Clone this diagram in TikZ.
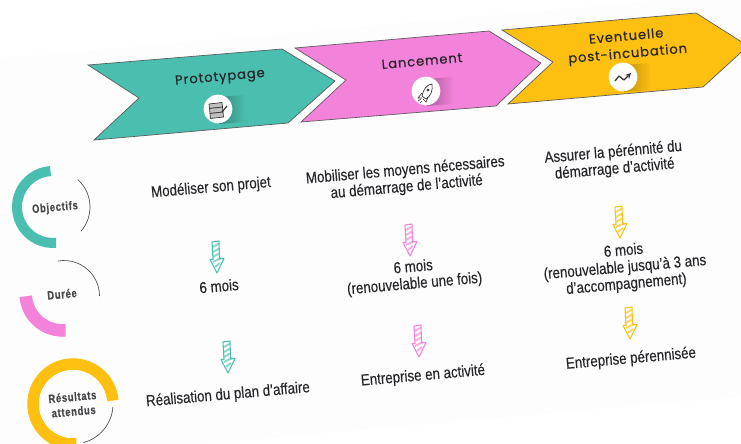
\documentclass[tikz,border=0pt]{standalone}
\usepackage{fontspec}
\setmainfont{Liberation Sans}
\newfontfamily\bodyfont[FakeStretch=0.84,FakeBold=0.15]{Liberation Sans}
\newfontfamily\headfont[LetterSpace=7,FakeBold=0.5]{Poppins}
\newfontfamily\sidefont[FakeStretch=0.78,LetterSpace=6,FakeBold=0.4]{Liberation Sans}
\definecolor{tealc}{HTML}{4ABFAF}
\definecolor{pinkc}{HTML}{F282DA}
\definecolor{yellowc}{HTML}{FDBF10}
\definecolor{inkc}{HTML}{26262A}
\begin{document}
\begin{tikzpicture}%
	[x={(0.75pt, 0pt)},
	y={(0pt, -0.75pt)},
	chevron/.style={draw=black!65, line width=0.5pt, line join=miter},
	headlabel/.style={rotate=5, align=center, text=inkc, font=\headfont\fontsize{9.8}{13}\selectfont, inner sep=0pt},
	bodylabel/.style={rotate=5, align=center, text=inkc, font=\bodyfont\fontsize{11.9}{12.6}\selectfont, inner sep=0pt},
	sidelabel/.style={rotate=5, align=center, text=inkc!85, font=\sidefont\bfseries\fontsize{9}{11}\selectfont, inner sep=0pt},
	badge/.style={circle, fill=white, minimum size=21.5pt, inner sep=0pt},
	thinarc/.style={draw=black!70, line width=0.5pt},
	icon/.style={draw=black!80, line width=0.5pt, line join=round},
	pics/drop/.style={code={
		\draw[line width=0.8pt, line join=round, fill=white] (-4,0) -- (3,-1) -- (3.5,17) -- (8,16.5) -- (1,31) -- (-6,17.5) -- (-3,17.5) -- cycle;
		\draw[line width=1.4pt, opacity=0.65] (-3,5) -- (3,1.5) (-3,10) -- (3,6.5) (-3,15) -- (3,11.5) (-3,20) -- (5,16) (-1,25) -- (4,21);
	}}]
%
\useasboundingbox (0,0) rectangle (741,443);
\clip (0,0) rectangle (741,443);
%%
%% Drawing the tilted sheet
%%
\fill[black!0.8] (0,58) -- (741,-7) -- (741,397) -- (0,462) -- cycle;
%%
%% Drawing the chevrons
%%
\fill[chevron, fill=tealc] (88,65) -- (282,49) -- (335,81) -- (288,123) -- (94,140) -- (139,98) -- cycle;
\fill[chevron, fill=pinkc] (295,48) -- (489,31) -- (541,63) -- (496,106) -- (301,122) -- (346,80) -- cycle;
\fill[chevron, fill=yellowc] (502,30) -- (696,13) -- (748,46) -- (703,87) -- (508,104) -- (553,62) -- cycle;
%%
%% Drawing the shadows behind the badges
%%
\path[left color=tealc!70!black, right color=tealc] (218,97) -- (244,95) -- (246,122) -- (219,124) -- cycle;
\path[left color=pinkc!70!black, right color=pinkc] (426,79) -- (452,77) -- (454,104) -- (427,106) -- cycle;
\path[left color=yellowc!75!black, right color=yellowc] (623,65) -- (649,63) -- (651,90) -- (624,92) -- cycle;
%%
%% Drawing the badges and their icons
%%
\node[badge] (protobadge) at (218,109) {};
\node[badge] (lancebadge) at (426,91) {};
\node[badge] (postbadge) at (623,77) {};
% stack of sheets
\draw[icon, fill=black!25] (209,104) -- (222,102.5) -- (222.5,107) -- (209.5,108.5) -- cycle;
\draw[icon, fill=black!25] (209.5,108.5) -- (222.5,107) -- (223,112) -- (210,113.5) -- cycle;
\draw[icon, fill=black!25] (210,113.5) -- (223,112) -- (223.5,117) -- (210.5,118.5) -- cycle;
\draw[icon, line width=0.9pt] (222,112) -- (227,106);
% rocket
\draw[icon, fill=white] (432,84) .. controls (427,84) and (423,90) .. (422,96) -- (426,99) .. controls (431,96) and (433,90) .. (432,84) -- cycle;
\draw[icon] (422,93) -- (418,98) -- (422,98) (428,97) -- (426,102) -- (423,99);
\draw[icon] (418,101) -- (421,99) (420,103) -- (422,101);
\draw[icon] (428,90) circle (1.2);
% rising curve
\draw[icon, line width=0.9pt, ->, >=stealth] (615,81) -- (619,76) -- (624,80) -- (631,73);
%%
%% Drawing the head labels
%%
\node[headlabel] (proto) at (220,78) {Prototypage};
\node[headlabel] (lance) at (422,61) {Lancement};
\node[headlabel] (post) at (627,46) {Eventuelle\\post-incubation};
%%
%% Drawing the rings on the left
%%
\draw[tealc, line width=7.5pt] (53,207) ++(-94:36) arc (-94:-275:36);
\draw[thinarc] (53,207) ++(-48:37) arc (-48:41:37);
\draw[pinkc, line width=9.4pt] (63,293) ++(-185:37.5) arc (-185:-274:37.5);
\draw[thinarc] (64,296) ++(-100:35.5) arc (-100:0:35.5);
\draw[yellowc, line width=8.6pt] (73,404) ++(-5:40) arc (-5:-275:40);
\draw[thinarc] (73,404) ++(4:40) arc (4:75:40);
\node[sidelabel] (objectifs) at (55,208) {Objectifs};
\node[sidelabel] (duree) at (62,294) {Durée};
\node[sidelabel] (resultats) at (73,404) {Résultats\\attendus};
%%
%% Drawing the row texts
%%
\node[bodylabel] (objproto) at (211,188) {Modéliser son projet};
\node[bodylabel] (objlance) at (406,179) {Mobiliser les moyens nécessaires\\au démarrage de l’activité};
\node[bodylabel] (objpost) at (614,161) {Assurer la pérénnité du\\démarrage d’activité};
\node[bodylabel] (dureeproto) at (219,286) {6 mois};
\node[bodylabel] (dureelance) at (414,276) {6 mois\\(renouvelable une fois)};
\node[bodylabel] (dureepost) at (625,268) {6 mois\\(renouvelable jusqu’à 3 ans\\d’accompagnement)};
\node[bodylabel] (resproto) at (228,395) {Réalisation du plan d’affaire};
\node[bodylabel] (reslance) at (423,376) {Entreprise en activité};
\node[bodylabel] (respost) at (631,359) {Entreprise pérennisée};
%%
%% Drawing the arrows
%%
\pic[tealc] at (216,242) {drop};
\pic[tealc] at (227,342) {drop};
\pic[pinkc] at (409,225) {drop};
\pic[pinkc] at (418,326) {drop};
\pic[yellowc] at (619,207) {drop};
\pic[yellowc] at (629,308) {drop};
\end{tikzpicture}
\end{document}
